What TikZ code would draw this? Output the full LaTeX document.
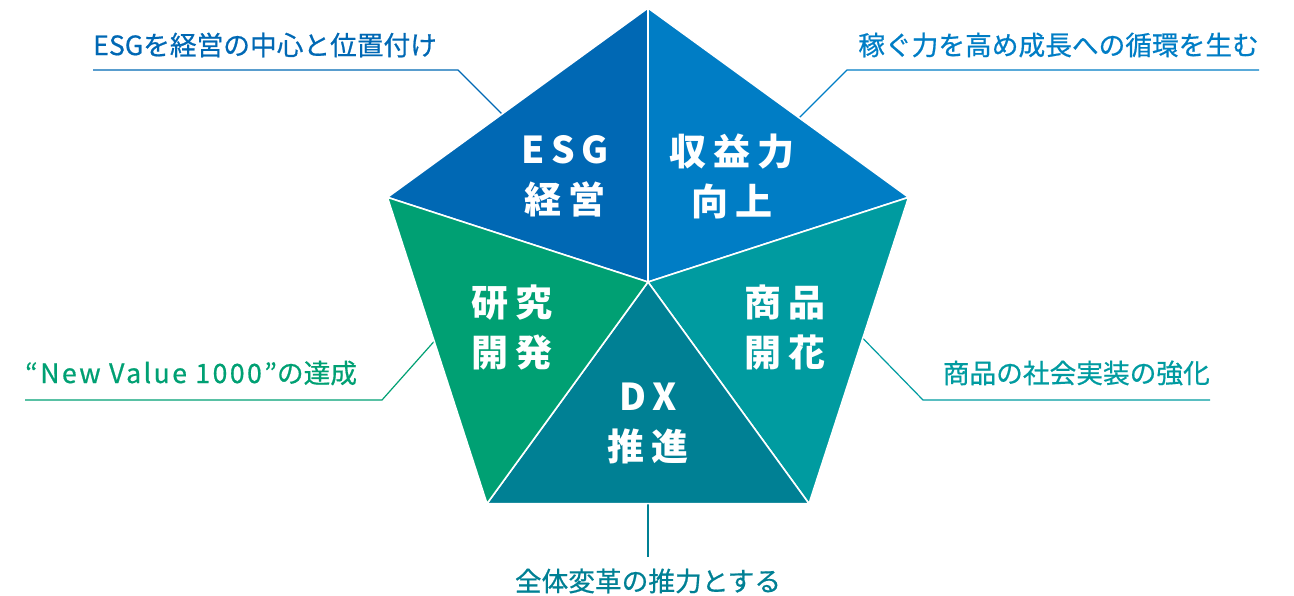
\documentclass[tikz,border=0pt]{standalone}
\usepackage{fontspec}
\usetikzlibrary{calc}
\newfontfamily\jp{Noto Sans CJK JP}[FakeBold=0.6]
\newfontfamily\jpl{Noto Sans CJK JP}[FakeBold=0.6,LetterSpace=9]
\newfontfamily\jpw{Noto Sans CJK JP}[LetterSpace=18]
\definecolor{esgblue}{RGB}{0,104,180}
\definecolor{incblue}{RGB}{0,125,197}
\definecolor{prodteal}{RGB}{0,155,160}
\definecolor{dxteal}{RGB}{0,128,148}
\definecolor{rdgreen}{RGB}{0,160,115}
\def\rad{274}

\begin{document}
\begin{tikzpicture}[x=1pt,y=-1pt]
  \tikzstyle{piece}=[draw=white,line width=1.6pt,line join=round]
  \tikzstyle{core}=[text=white,align=center,inner sep=0pt,font=\jpw\bfseries\fontsize{37}{50}\selectfont]
  \tikzstyle{lab}=[inner sep=0pt,font=\jp\fontsize{26.7}{30}\selectfont]
  \tikzstyle{lead}=[line width=1.2pt]

  \useasboundingbox (0,0) rectangle (1294,596);

  \coordinate (C) at (648,282);
  \foreach \name / \a in {1/-90,2/-18,3/54,4/126,5/198}
    \path[shift={(C)}] coordinate (V-\name) at (\a:\rad);

  \node[lab,text=esgblue,anchor=west] (esg-l) at (93,45) {ESGを経営の中心と位置付け};
  \node[lab,text=incblue,anchor=east] (inc-l) at (1259,45) {稼ぐ力を高め成長への循環を生む};
  \node[lab,text=rdgreen,anchor=west] (rd-l) at (25,373) {{\jpl “New Value 1000”}の達成};
  \node[lab,text=prodteal,anchor=east] (prod-l) at (1210,373) {商品の社会実装の強化};
  \node[lab,text=dxteal,outer ysep=12pt] (dx-l) at (648,581) {全体変革の推力とする};

  \coordinate (e1) at ($(V-1)!0.56!(V-5)$);
  \coordinate (k1) at (458,70);
  \coordinate (e2) at ($(V-1)!0.58!(V-2)$);
  \coordinate (k2) at (847,70);
  \coordinate (e3) at ($(V-5)!0.47!(V-4)$);
  \coordinate (k3) at (382,400);
  \coordinate (e4) at ($(V-2)!0.46!(V-3)$);
  \coordinate (k4) at (923,400);
  \coordinate (e5) at ($(V-3)!0.5!(V-4)$);

  \draw[lead,esgblue] (e1) -- (k1) -- (k1 -| esg-l.west);
  \draw[lead,incblue] (e2) -- (k2) -- (k2 -| inc-l.east);
  \draw[lead,rdgreen] (e3) -- (k3) -- (k3 -| rd-l.west);
  \draw[lead,prodteal] (e4) -- (k4) -- (k4 -| prod-l.east);
  \draw[lead,dxteal] (e5) -- (dx-l.north);

  \foreach \s / \d / \c in {1/5/esgblue,1/2/incblue,2/3/prodteal,3/4/dxteal,4/5/rdgreen}
    \filldraw[piece,fill=\c] (C) -- (V-\s) -- (V-\d) -- cycle;

  \node[core] (esg) at (565,176) {ESG\\経営};
  \node[core] (inc) at (732,176) {収益力\\向上};
  \node[core] (rd) at (512,327) {研究\\開発};
  \node[core] (prod) at (785,327) {商品\\開花};
  \node[core] (dx) at (648,423) {DX\\推進};

\end{tikzpicture}
\end{document}
